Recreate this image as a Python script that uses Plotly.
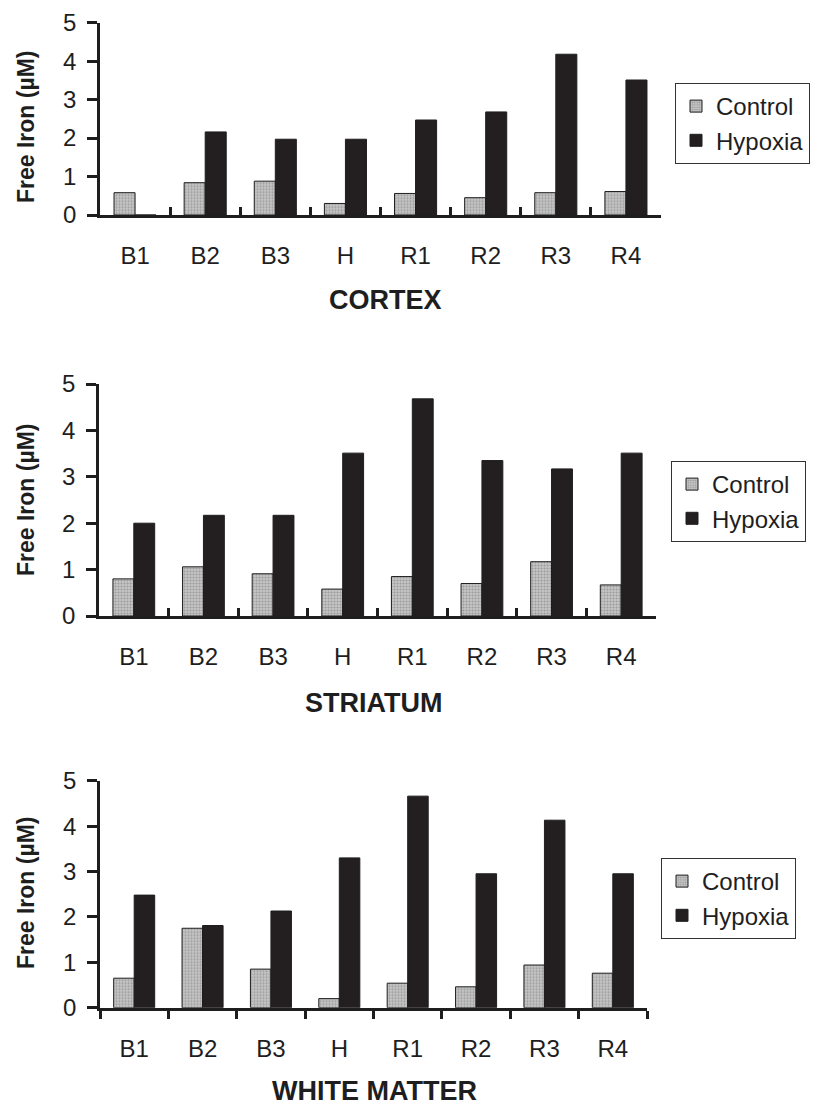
import plotly.graph_objects as go

categories = ["B1", "B2", "B3", "H", "R1", "R2", "R3", "R4"]
cortex_control = [0.58, 0.84, 0.88, 0.30, 0.56, 0.45, 0.58, 0.61]
cortex_hypoxia = [0.0, 2.16, 1.97, 1.97, 2.47, 2.68, 4.18, 3.51]
striatum_control = [0.80, 1.06, 0.91, 0.58, 0.85, 0.70, 1.17, 0.67]
striatum_hypoxia = [2.00, 2.17, 2.17, 3.51, 4.68, 3.35, 3.17, 3.51]
wm_control = [0.65, 1.75, 0.85, 0.20, 0.54, 0.46, 0.94, 0.76]
wm_hypoxia = [2.48, 1.81, 2.13, 3.30, 4.66, 2.95, 4.13, 2.95]
panel_titles = ["CORTEX", "STRIATUM", "WHITE MATTER"]
y_title = "Free Iron (µM)"
series_names = ["Control", "Hypoxia"]

# the page body has an 8px margin: the figure starts at (8, 8) in the window
OX, OY = 8, 8
W, H = 819 - OX, 1106 - OY
FONT = "Arial, Liberation Sans, sans-serif"
INK = "#1e1e1e"


def px(x):
    return (x - OX) / W


def py(y):
    return 1 - (y - OY) / H


panels = [
    dict(ctrl=cortex_control, hyp=cortex_hypoxia, x0=100, x1=661, top=22.7, bot=215,
         ticks="inside", title_xy=(385, 300), ylab_y=127, leg=(675, 83), ew=115),
    dict(ctrl=striatum_control, hyp=striatum_hypoxia, x0=99, x1=656, top=384, bot=616,
         ticks="inside", title_xy=(373, 703), ylab_y=500, leg=(671, 461), ew=115),
    dict(ctrl=wm_control, hyp=wm_hypoxia, x0=100, x1=647, top=780.7, bot=1007.7,
         ticks="outside", title_xy=(374, 1091), ylab_y=893, leg=(661, 858), ew=108),
]

fig = go.Figure()
layout = {}
annotations = []
for i, p in enumerate(panels):
    n = i + 1
    xa = "x" if n == 1 else f"x{n}"
    ya = "y" if n == 1 else f"y{n}"
    lg = "legend" if n == 1 else f"legend{n}"
    fig.add_trace(go.Bar(
        x=categories, y=p["ctrl"], name=series_names[0], xaxis=xa, yaxis=ya, legend=lg,
        marker=dict(color="#b8b8b8", line=dict(color=INK, width=1),
                    pattern=dict(shape=".", fgcolor="#707070", bgcolor="#c6c6c6",
                                 size=3, solidity=0.4)),
    ))
    fig.add_trace(go.Bar(
        x=categories, y=p["hyp"], name=series_names[1], xaxis=xa, yaxis=ya, legend=lg,
        marker=dict(color="#231f20", line=dict(color=INK, width=1)),
    ))
    xkey = "xaxis" if n == 1 else f"xaxis{n}"
    ykey = "yaxis" if n == 1 else f"yaxis{n}"
    layout[xkey] = dict(
        domain=[px(p["x0"]), px(p["x1"])], anchor=ya, automargin=False,
        showline=True, linecolor=INK, linewidth=3,
        tickson="boundaries", ticks=p["ticks"], ticklen=8, tickwidth=3, tickcolor=INK,
        tickfont=dict(family=FONT, size=24, color=INK), ticklabelstandoff=17,
        showgrid=False, zeroline=False, fixedrange=True,
    )
    layout[ykey] = dict(
        domain=[py(p["bot"]), py(p["top"])], anchor=xa, automargin=False,
        range=[0, 5], dtick=1, tick0=0,
        showline=True, linecolor=INK, linewidth=2.5,
        ticks="outside", ticklen=10, tickwidth=2.5, tickcolor=INK,
        tickfont=dict(family=FONT, size=24, color=INK), ticklabelstandoff=6,
        showgrid=False, zeroline=False, fixedrange=True,
    )
    layout[lg] = dict(
        x=px(p["leg"][0]), y=py(p["leg"][1]), xanchor="left", yanchor="top",
        xref="paper", yref="paper",
        bgcolor="white", bordercolor="#333", borderwidth=1,
        font=dict(family=FONT, size=24, color=INK), tracegroupgap=0,
        itemwidth=30, entrywidth=p["ew"], entrywidthmode="pixels",
    )
    annotations.append(dict(
        text=f"<b>{panel_titles[i]}</b>", x=px(p["title_xy"][0]), y=py(p["title_xy"][1]),
        xref="paper", yref="paper", showarrow=False, xanchor="center", yanchor="middle",
        font=dict(family=FONT, size=27, color=INK),
    ))
    annotations.append(dict(
        text=f"<b>{y_title}</b>", x=px(26), y=py(p["ylab_y"]),
        xref="paper", yref="paper", showarrow=False, xanchor="center", yanchor="middle",
        textangle=-90, font=dict(family=FONT, size=23, color=INK),
    ))

fig.update_layout(
    **layout,
    annotations=annotations,
    width=W, height=H,
    margin=dict(l=0, r=0, t=0, b=0, autoexpand=False),
    paper_bgcolor="white", plot_bgcolor="white",
    barmode="group", bargap=0.4, bargroupgap=0,
    showlegend=True,
)

fig.write_html("out.html")
